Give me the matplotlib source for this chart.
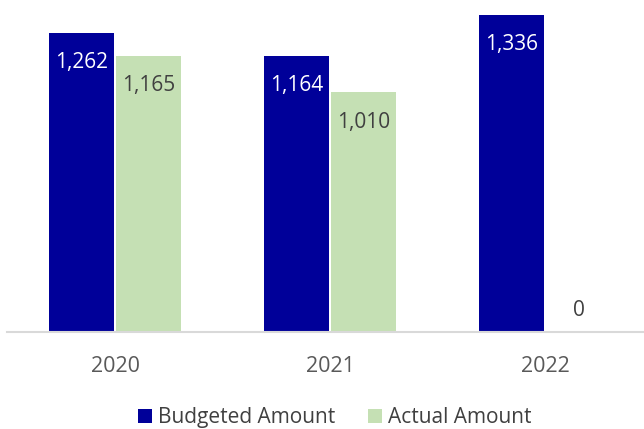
import numpy as np
import matplotlib.pyplot as plt

plt.rcParams['font.family'] = ['Open Sans', 'DejaVu Sans']

years = ['2020', '2021', '2022']
budgeted = [1262, 1164, 1336]
actual = [1165, 1010, 0]

blue = '#000099'
green = '#C5E0B4'

fig = plt.figure(figsize=(6.44, 4.29), dpi=100)
ax = fig.add_axes([0.011, 0.225, 0.989, 0.775])

x = np.arange(len(years))
w = 0.302
off = 0.157
b1 = ax.bar(x - off, budgeted, w, color=blue, label='Budgeted Amount')
b2 = ax.bar(x + off, actual, w, color=green, label='Actual Amount')

# value labels inside the top of each bar
for rect, v in zip(b1, budgeted):
    ax.annotate(f'{v:,}', (rect.get_x() + rect.get_width() / 2, v),
                xytext=(0, -14), textcoords='offset points',
                ha='center', va='top', color='white', fontsize=15)
for rect, v in zip(b2, actual):
    if v > 0:
        ax.annotate(f'{v:,}', (rect.get_x() + rect.get_width() / 2, v),
                    xytext=(0, -14), textcoords='offset points',
                    ha='center', va='top', color='#404040', fontsize=15)
    else:
        ax.annotate(f'{v:,}', (rect.get_x() + rect.get_width() / 2, v),
                    xytext=(0, 16), textcoords='offset points',
                    ha='center', va='center', color='#404040', fontsize=15)

ax.set_xlim(-0.502, 2.46)
ax.set_ylim(0, 1399)
ax.set_xticks(x)
ax.set_xticklabels(years, color='#595959', fontsize=15.5)
ax.tick_params(axis='x', length=0, pad=17)
ax.set_yticks([])
for s in ['top', 'right', 'left']:
    ax.spines[s].set_visible(False)
ax.spines['bottom'].set_color('#D9D9D9')
ax.spines['bottom'].set_linewidth(1.5)

fig.legend(loc='center', bbox_to_anchor=(0.52, 0.026), ncol=2, frameon=False,
           fontsize=15, handlelength=0.65, handleheight=0.65, handletextpad=0.3,
           columnspacing=1.6, labelcolor='#404040')

fig.savefig('out.png', dpi=100)
